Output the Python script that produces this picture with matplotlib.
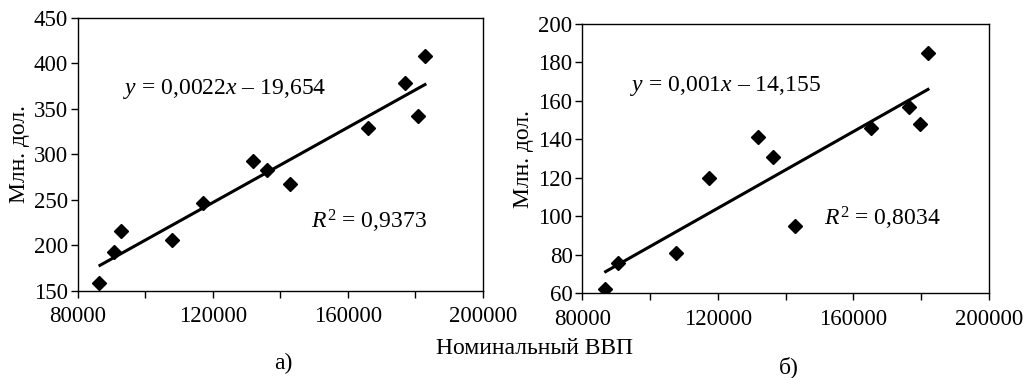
import numpy as np
import matplotlib
matplotlib.use("Agg")
import matplotlib.pyplot as plt
from matplotlib.ticker import MultipleLocator

plt.rcParams['font.family'] = ['Liberation Serif', 'DejaVu Serif']
plt.rcParams['mathtext.fontset'] = 'custom'
plt.rcParams['mathtext.rm'] = 'Liberation Serif'
plt.rcParams['mathtext.it'] = 'Liberation Serif:italic'

# panel a
gdp_a = [86300, 90700, 92800, 107900, 117000, 132000, 136100, 142800, 165900, 177000, 180700, 182800]
val_a = [158, 193, 215, 206, 246, 292, 282, 267, 329, 378, 342, 408]
eq_a = "$y$ = 0,0022$x$ \u2013 19,654"
r2_a = "$R^2$ = 0,9373"

# panel b
gdp_b = [86600, 90500, 107700, 117300, 131800, 136300, 142700, 165100, 176400, 179700, 182000]
val_b = [62, 76, 81, 120, 141, 131, 95, 146, 157, 148, 185]
eq_b = "$y$ = 0,001$x$ \u2013 14,155"
r2_b = "$R^2$ = 0,8034"

x_ticks = [80000, 120000, 160000, 200000]
ylabel = "Млн. дол."
xlabel = "Номинальный ВВП"

fig = plt.figure(figsize=(10.26, 3.78), dpi=100)
ax1 = fig.add_axes([0.0757, 0.2310, 0.3951, 0.7227])
ax2 = fig.add_axes([0.5675, 0.2241, 0.3964, 0.7124])


def panel(ax, x, y, ylim, ystep, eq, eq_pos, r2, r2_pos):
    x = np.array(x, float)
    y = np.array(y, float)
    k, b = np.polyfit(x, y, 1)
    xs = np.array([x.min() + 300, x.max()])
    ax.plot(xs, k * xs + b, color='black', lw=2.2, zorder=2)
    ax.plot(x, y, 'D', color='black', ms=7.5, zorder=3)
    ax.set_xlim(80000, 200000)
    ax.set_ylim(*ylim)
    ax.set_xticks(x_ticks)
    ax.xaxis.set_minor_locator(MultipleLocator(20000))
    ax.yaxis.set_major_locator(MultipleLocator(ystep))
    ax.tick_params(direction='out', length=5, width=1, labelsize=16.5)
    ax.tick_params(axis='y', pad=2)
    ax.tick_params(axis='x', pad=6)
    ax.tick_params(which='minor', direction='out', length=5, width=1)
    ax.set_ylabel(ylabel, fontsize=17, labelpad=3)
    for s in ax.spines.values():
        s.set_linewidth(1)
    ax.text(*eq_pos, eq, fontsize=17, va='center', ha='left')
    ax.text(*r2_pos, r2, fontsize=17, va='center', ha='left')


panel(ax1, gdp_a, val_a, (150, 450), 50, eq_a, (93500, 371), r2_a, (149200, 226))
panel(ax2, gdp_b, val_b, (60, 200), 20, eq_b, (94000, 168), r2_b, (151200, 99))

fig.text(534 / 1026, 1 - 349 / 378, xlabel, ha='center', va='center', fontsize=17)
fig.text(283 / 1026, 1 - 363 / 378, "а)", ha='center', va='center', fontsize=17)
fig.text(789 / 1026, 1 - 367 / 378, "б)", ha='center', va='center', fontsize=17)

fig.savefig("out.png", dpi=100)
